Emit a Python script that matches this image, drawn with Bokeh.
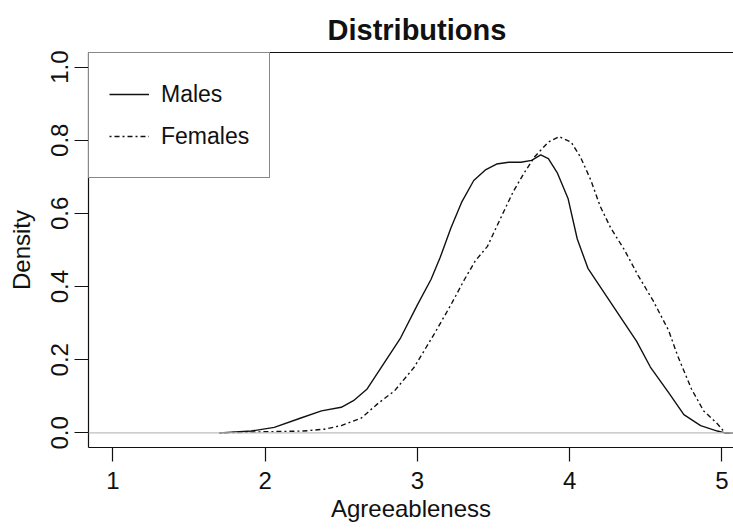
from bokeh.plotting import figure
from bokeh.models import (Range1d, FixedTicker, LinearAxis, Span, Legend,
                          LegendItem, NumeralTickFormatter)
from bokeh.embed import file_html
from bokeh.resources import INLINE

# ---- data ----
males_x = [1.70, 1.91, 2.06, 2.23, 2.37, 2.50, 2.58, 2.67, 2.78, 2.89, 3.00,
           3.09, 3.15, 3.22, 3.29, 3.37, 3.45, 3.52, 3.60, 3.68, 3.75, 3.81,
           3.86, 3.92, 3.99, 4.05, 4.12, 4.20, 4.28, 4.36, 4.44, 4.53, 4.65,
           4.75, 4.86, 4.97, 5.02, 5.08]
males_y = [0.0, 0.005, 0.015, 0.04, 0.06, 0.07, 0.088, 0.12, 0.19, 0.26, 0.35,
           0.42, 0.48, 0.56, 0.63, 0.69, 0.72, 0.735, 0.74, 0.74, 0.745, 0.76,
           0.75, 0.71, 0.64, 0.53, 0.45, 0.40, 0.35, 0.30, 0.25, 0.18, 0.11,
           0.05, 0.02, 0.005, 0.0, 0.0]

females_x = [1.70, 2.00, 2.25, 2.39, 2.50, 2.63, 2.74, 2.85, 2.98, 3.11, 3.22,
             3.31, 3.38, 3.46, 3.55, 3.63, 3.70, 3.77, 3.86, 3.93, 4.01, 4.07,
             4.14, 4.20, 4.27, 4.36, 4.45, 4.55, 4.65, 4.71, 4.80, 4.88, 4.97,
             5.02, 5.08]
females_y = [0.0, 0.003, 0.005, 0.01, 0.02, 0.04, 0.08, 0.115, 0.18, 0.27, 0.35,
             0.42, 0.47, 0.51, 0.59, 0.66, 0.71, 0.755, 0.795, 0.81, 0.795, 0.755,
             0.69, 0.62, 0.56, 0.50, 0.43, 0.36, 0.28, 0.21, 0.12, 0.06, 0.025,
             0.0, 0.0]

x_ticks = [1, 2, 3, 4, 5]
y_ticks = [0.0, 0.2, 0.4, 0.6, 0.8, 1.0]

FONT = "Liberation Sans"
INK = "#111111"

p = figure(width=733, height=530,
           x_range=Range1d(0.84, 5.076), y_range=Range1d(-0.04, 1.04),
           output_backend="svg", toolbar_location=None,
           min_border_left=88, min_border_right=0,
           min_border_top=52, min_border_bottom=83,
           title="Distributions", x_axis_label="Agreeableness",
           y_axis_label="Density")

p.background_fill_color = "white"
p.border_fill_color = "white"
p.outline_line_color = None
p.xgrid.visible = False
p.ygrid.visible = False

# title
p.title.text_font = FONT
p.title.text_font_size = "29px"
p.title.text_font_style = "bold"
p.title.text_color = INK
p.title.align = "left"
p.title.offset = 239
p.title.standoff = 14

# axes
for ax in (p.xaxis[0], p.yaxis[0]):
    ax.axis_line_color = INK
    ax.axis_line_width = 1.2
    ax.major_tick_line_color = INK
    ax.major_tick_line_width = 1.2
    ax.major_tick_out = 14
    ax.major_tick_in = 0
    ax.minor_tick_line_color = None
    ax.major_label_text_font = FONT
    ax.major_label_text_font_size = "24px"
    ax.major_label_text_color = INK
    ax.axis_label_text_font = FONT
    ax.axis_label_text_font_size = "24px"
    ax.axis_label_text_font_style = "normal"
    ax.axis_label_text_color = INK

p.xaxis[0].ticker = FixedTicker(ticks=x_ticks)
p.xaxis[0].major_label_standoff = 10
p.xaxis[0].axis_label_standoff = 3

p.yaxis[0].ticker = FixedTicker(ticks=y_ticks)
p.yaxis[0].formatter = NumeralTickFormatter(format="0.0")
p.yaxis[0].major_label_orientation = "vertical"
p.yaxis[0].major_label_standoff = 6
p.yaxis[0].axis_label_standoff = 14

# top frame line
top = LinearAxis(ticker=FixedTicker(ticks=[]), major_label_text_font_size="0px",
                 major_tick_out=0, major_tick_in=0, major_label_standoff=0,
                 minor_tick_line_color=None, axis_line_color=INK,
                 axis_line_width=1.2)
p.add_layout(top, "above")

# zero reference line
p.add_layout(Span(location=0, dimension="width", line_color="#bebebe",
                  line_width=1.2))

r_m = p.line(males_x, males_y, line_color=INK, line_width=1.4)
r_f = p.line(females_x, females_y, line_color=INK, line_width=1.4,
             line_dash="2 3 5 3")

legend = Legend(items=[LegendItem(label="Males", renderers=[r_m]),
                       LegendItem(label="Females", renderers=[r_f])],
                location="top_left", margin=0, padding=20, spacing=0,
                glyph_width=40, glyph_height=42, label_height=42,
                label_standoff=12, border_line_color=INK, border_line_width=1.2,
                label_text_font=FONT, label_text_font_size="23px",
                label_text_color=INK, background_fill_alpha=1.0)
p.add_layout(legend)

open("out.html", "w").write(file_html(p, INLINE))
